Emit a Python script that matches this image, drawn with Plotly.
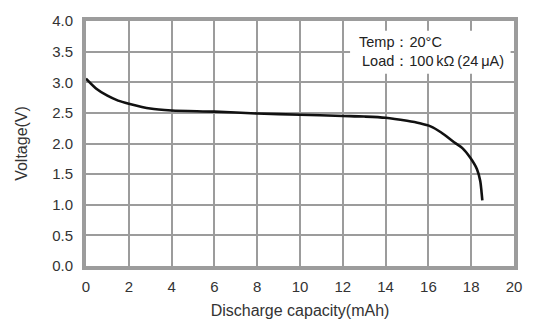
import plotly.graph_objects as go

# Discharge curve: capacity (mAh) vs. cell voltage (V)
capacity_mah = [0.0, 0.5, 1.0, 1.5, 2.0, 3.0, 4.0, 6.0, 8.0, 10.0, 12.0,
                13.0, 14.0, 15.0, 15.6, 16.1, 16.6, 17.2, 17.6, 17.95, 18.27, 18.42, 18.48, 18.52]
voltage_v = [3.06, 2.89, 2.78, 2.70, 2.65, 2.57, 2.54, 2.52, 2.49, 2.47, 2.45,
             2.44, 2.42, 2.37, 2.33, 2.28, 2.18, 2.02, 1.92, 1.77, 1.58, 1.39, 1.22, 1.07]

x_ticks = [0, 2, 4, 6, 8, 10, 12, 14, 16, 18, 20]
y_ticks = [0.0, 0.5, 1.0, 1.5, 2.0, 2.5, 3.0, 3.5, 4.0]
y_tick_text = ["0.0", "0.5", "1.0", "1.5", "2.0", "2.5", "3.0", "3.5", "4.0"]

conditions = ["Temp：20°C", "Load：100\u2009kΩ\u2009(24\u2009μA)"]

FONT = "Liberation Sans, Arial, sans-serif"
GRID = "#9c9c9c"
TEXT = "#333333"

fig = go.Figure()
fig.add_trace(go.Scatter(
    x=capacity_mah, y=voltage_v, mode="lines",
    line=dict(color="#111111", width=2.6, shape="spline", smoothing=0.8),
    hoverinfo="skip", showlegend=False,
))

axis_common = dict(
    showgrid=True, gridcolor=GRID, gridwidth=2,
    showline=True, linecolor=GRID, linewidth=4, mirror=True,
    zeroline=False, ticks="", tickfont=dict(family=FONT, size=15, color=TEXT),
)

fig.update_xaxes(
    range=[0, 20], tickvals=x_ticks, ticktext=[str(v) for v in x_ticks],
    ticklabelstandoff=4,
    title=dict(text="Discharge capacity(mAh)", font=dict(family=FONT, size=16, color=TEXT), standoff=12),
    **axis_common,
)
fig.update_yaxes(
    range=[0, 4], tickvals=y_ticks, ticktext=y_tick_text,
    ticklabelstandoff=6,
    title=dict(text="Voltage(V)", font=dict(family=FONT, size=16, color=TEXT), standoff=22),
    **axis_common,
)

# White panel behind the test-condition note
fig.add_shape(type="rect", xref="paper", yref="paper",
              x0=0.617, x1=0.992, y0=0.785, y1=0.96,
              fillcolor="white", line=dict(width=0), layer="above")

fig.add_annotation(text=conditions[0], xref="paper", yref="paper",
                   x=0.634, y=0.915, xanchor="left", yanchor="middle", showarrow=False,
                   font=dict(family=FONT, size=14.5, color="#222222"))
fig.add_annotation(text=conditions[1], xref="paper", yref="paper",
                   x=0.641, y=0.836, xanchor="left", yanchor="middle", showarrow=False,
                   font=dict(family=FONT, size=14.5, color="#222222"))

fig.update_layout(
    width=540, height=330,
    margin=dict(l=86, r=26, t=18, b=61),
    paper_bgcolor="white", plot_bgcolor="white",
    font=dict(family=FONT),
)

fig.write_html("out.html")
